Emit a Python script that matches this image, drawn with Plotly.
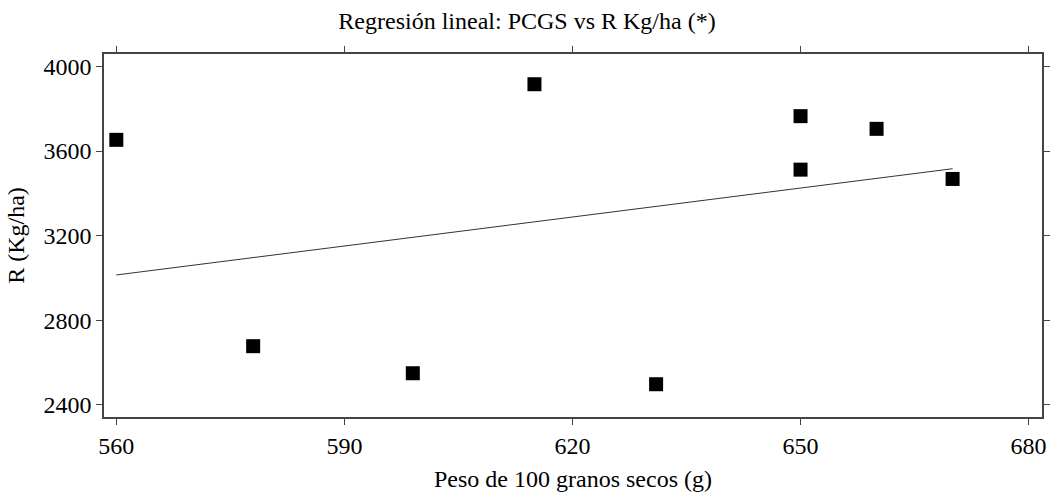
import numpy as np
import plotly.graph_objects as go

# Peso de 100 granos secos (g) and rendimiento (Kg/ha)
pcgs = [560, 578, 599, 615, 631, 650, 650, 660, 670]
rend = [3653, 2677, 2549, 3916, 2497, 3512, 3765, 3705, 3468]

x_ticks = [560, 590, 620, 650, 680]
y_ticks = [2400, 2800, 3200, 3600, 4000]

# Least-squares fit over the observed range
slope, intercept = np.polyfit(pcgs, rend, 1)
fit_x = [min(pcgs), max(pcgs)]
fit_y = [intercept + slope * v for v in fit_x]

font_family = "Liberation Serif, Times New Roman, serif"

fig = go.Figure()
fig.add_trace(go.Scatter(
    x=fit_x, y=fit_y, mode="lines",
    line=dict(color="#333333", width=1),
    hoverinfo="skip", showlegend=False,
))
fig.add_trace(go.Scatter(
    x=pcgs, y=rend, mode="markers",
    marker=dict(symbol="square", size=14, color="black",
                line=dict(width=0)),
    showlegend=False,
))

axis_common = dict(
    showgrid=False, zeroline=False, automargin=False,
    showline=True, linecolor="#444444", linewidth=1.5, mirror="allticks",
    ticks="outside", ticklen=6, tickwidth=1, tickcolor="#444444",
    tickfont=dict(family=font_family, size=24, color="black"),
)

fig.update_layout(
    width=1054, height=492,
    margin=dict(l=104, r=12, t=54, b=75),
    paper_bgcolor="white", plot_bgcolor="white",
    font=dict(family=font_family, color="black"),
    title=dict(
        text="Regresión lineal: PCGS vs R Kg/ha (*)",
        x=0.5, xref="container", xanchor="center",
        y=0.958, yref="container", yanchor="middle",
        font=dict(family=font_family, size=24, color="black"),
    ),
    xaxis=dict(
        range=[558.38, 681.76], tickvals=x_ticks,
        title=dict(text="Peso de 100 granos secos (g)", standoff=14,
                   font=dict(family=font_family, size=24)),
        **axis_common,
    ),
    yaxis=dict(
        range=[2342, 4059], tickvals=y_ticks,
        title=dict(text="R (Kg/ha)", standoff=12,
                   font=dict(family=font_family, size=24)),
        **axis_common,
    ),
)

fig.write_html("out.html")
